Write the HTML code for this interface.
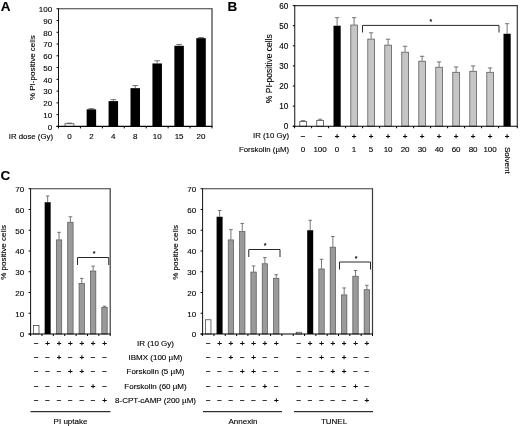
<!DOCTYPE html>
<html lang="en">
<head>
<meta charset="utf-8">
<title>Figure</title>
<style>
html,body{margin:0;padding:0;background:#fff;}
body{width:520px;height:426px;overflow:hidden;}
svg{display:block;font-family:'Liberation Sans', Arial, sans-serif;}
</style>
</head>
<body>
<svg width="520" height="426" viewBox="0 0 520 426">
<rect x="0" y="0" width="520" height="426" fill="#fff"/>
<text x="0.70" y="10.80" text-anchor="start" font-size="13.5" font-weight="bold" fill="#000" stroke="#000" stroke-width="0.12">A</text>
<line x1="58.50" y1="8.75" x2="212.60" y2="8.75" stroke="#3a3a3a" stroke-width="1.2"/>
<line x1="212.00" y1="8.75" x2="212.00" y2="126.40" stroke="#3a3a3a" stroke-width="1.2"/>
<line x1="69.46" y1="123.11" x2="69.46" y2="123.46" stroke="#555" stroke-width="0.8"/>
<line x1="66.61" y1="123.11" x2="72.31" y2="123.11" stroke="#555" stroke-width="0.8"/>
<rect x="65.01" y="123.76" width="8.90" height="2.64" fill="#fff" stroke="#333" stroke-width="0.7"/>
<line x1="91.39" y1="108.63" x2="91.39" y2="109.34" stroke="#555" stroke-width="0.8"/>
<line x1="88.54" y1="108.63" x2="94.24" y2="108.63" stroke="#555" stroke-width="0.8"/>
<rect x="86.64" y="109.34" width="9.50" height="17.06" fill="#000" stroke="none" stroke-width="0.6"/>
<line x1="113.32" y1="99.58" x2="113.32" y2="101.11" stroke="#555" stroke-width="0.8"/>
<line x1="110.47" y1="99.58" x2="116.17" y2="99.58" stroke="#555" stroke-width="0.8"/>
<rect x="108.57" y="101.11" width="9.50" height="25.29" fill="#000" stroke="none" stroke-width="0.6"/>
<line x1="135.25" y1="85.58" x2="135.25" y2="88.16" stroke="#555" stroke-width="0.8"/>
<line x1="132.40" y1="85.58" x2="138.10" y2="85.58" stroke="#555" stroke-width="0.8"/>
<rect x="130.50" y="88.16" width="9.50" height="38.24" fill="#000" stroke="none" stroke-width="0.6"/>
<line x1="157.18" y1="60.75" x2="157.18" y2="63.46" stroke="#555" stroke-width="0.8"/>
<line x1="154.33" y1="60.75" x2="160.03" y2="60.75" stroke="#555" stroke-width="0.8"/>
<rect x="152.43" y="63.46" width="9.50" height="62.94" fill="#000" stroke="none" stroke-width="0.6"/>
<line x1="179.11" y1="44.40" x2="179.11" y2="45.81" stroke="#555" stroke-width="0.8"/>
<line x1="176.26" y1="44.40" x2="181.96" y2="44.40" stroke="#555" stroke-width="0.8"/>
<rect x="174.36" y="45.81" width="9.50" height="80.59" fill="#000" stroke="none" stroke-width="0.6"/>
<line x1="201.04" y1="37.46" x2="201.04" y2="38.16" stroke="#555" stroke-width="0.8"/>
<line x1="198.19" y1="37.46" x2="203.89" y2="37.46" stroke="#555" stroke-width="0.8"/>
<rect x="196.29" y="38.16" width="9.50" height="88.24" fill="#000" stroke="none" stroke-width="0.6"/>
<line x1="58.50" y1="8.25" x2="58.50" y2="126.90" stroke="#111" stroke-width="1"/>
<line x1="56.50" y1="126.40" x2="212.50" y2="126.40" stroke="#000" stroke-width="1.1"/>
<line x1="56.50" y1="126.40" x2="58.50" y2="126.40" stroke="#000" stroke-width="1"/>
<text x="52.10" y="129.70" text-anchor="end" font-size="8" fill="#000" stroke="#000" stroke-width="0.12">0</text>
<line x1="56.50" y1="114.64" x2="58.50" y2="114.64" stroke="#000" stroke-width="1"/>
<text x="52.10" y="117.94" text-anchor="end" font-size="8" fill="#000" stroke="#000" stroke-width="0.12">10</text>
<line x1="56.50" y1="102.87" x2="58.50" y2="102.87" stroke="#000" stroke-width="1"/>
<text x="52.10" y="106.17" text-anchor="end" font-size="8" fill="#000" stroke="#000" stroke-width="0.12">20</text>
<line x1="56.50" y1="91.11" x2="58.50" y2="91.11" stroke="#000" stroke-width="1"/>
<text x="52.10" y="94.41" text-anchor="end" font-size="8" fill="#000" stroke="#000" stroke-width="0.12">30</text>
<line x1="56.50" y1="79.34" x2="58.50" y2="79.34" stroke="#000" stroke-width="1"/>
<text x="52.10" y="82.64" text-anchor="end" font-size="8" fill="#000" stroke="#000" stroke-width="0.12">40</text>
<line x1="56.50" y1="67.58" x2="58.50" y2="67.58" stroke="#000" stroke-width="1"/>
<text x="52.10" y="70.88" text-anchor="end" font-size="8" fill="#000" stroke="#000" stroke-width="0.12">50</text>
<line x1="56.50" y1="55.81" x2="58.50" y2="55.81" stroke="#000" stroke-width="1"/>
<text x="52.10" y="59.11" text-anchor="end" font-size="8" fill="#000" stroke="#000" stroke-width="0.12">60</text>
<line x1="56.50" y1="44.05" x2="58.50" y2="44.05" stroke="#000" stroke-width="1"/>
<text x="52.10" y="47.34" text-anchor="end" font-size="8" fill="#000" stroke="#000" stroke-width="0.12">70</text>
<line x1="56.50" y1="32.28" x2="58.50" y2="32.28" stroke="#000" stroke-width="1"/>
<text x="52.10" y="35.58" text-anchor="end" font-size="8" fill="#000" stroke="#000" stroke-width="0.12">80</text>
<line x1="56.50" y1="20.52" x2="58.50" y2="20.52" stroke="#000" stroke-width="1"/>
<text x="52.10" y="23.82" text-anchor="end" font-size="8" fill="#000" stroke="#000" stroke-width="0.12">90</text>
<line x1="56.50" y1="8.75" x2="58.50" y2="8.75" stroke="#000" stroke-width="1"/>
<text x="52.10" y="12.05" text-anchor="end" font-size="8" fill="#000" stroke="#000" stroke-width="0.12">100</text>
<line x1="58.50" y1="126.40" x2="58.50" y2="128.40" stroke="#000" stroke-width="1"/>
<line x1="80.43" y1="126.40" x2="80.43" y2="128.40" stroke="#000" stroke-width="1"/>
<line x1="102.36" y1="126.40" x2="102.36" y2="128.40" stroke="#000" stroke-width="1"/>
<line x1="124.29" y1="126.40" x2="124.29" y2="128.40" stroke="#000" stroke-width="1"/>
<line x1="146.21" y1="126.40" x2="146.21" y2="128.40" stroke="#000" stroke-width="1"/>
<line x1="168.14" y1="126.40" x2="168.14" y2="128.40" stroke="#000" stroke-width="1"/>
<line x1="190.07" y1="126.40" x2="190.07" y2="128.40" stroke="#000" stroke-width="1"/>
<line x1="212.00" y1="126.40" x2="212.00" y2="128.40" stroke="#000" stroke-width="1"/>
<text x="35.50" y="67.58" text-anchor="middle" font-size="8" transform="rotate(-90 35.50 67.58)" fill="#000" stroke="#000" stroke-width="0.12">% PI-positive cells</text>
<text x="53.00" y="139.10" text-anchor="end" font-size="7.8" fill="#000" stroke="#000" stroke-width="0.12">IR dose (Gy)</text>
<text x="69.46" y="139.10" text-anchor="middle" font-size="8" fill="#000" stroke="#000" stroke-width="0.12">0</text>
<text x="91.39" y="139.10" text-anchor="middle" font-size="8" fill="#000" stroke="#000" stroke-width="0.12">2</text>
<text x="113.32" y="139.10" text-anchor="middle" font-size="8" fill="#000" stroke="#000" stroke-width="0.12">4</text>
<text x="135.25" y="139.10" text-anchor="middle" font-size="8" fill="#000" stroke="#000" stroke-width="0.12">8</text>
<text x="157.18" y="139.10" text-anchor="middle" font-size="8" fill="#000" stroke="#000" stroke-width="0.12">10</text>
<text x="179.11" y="139.10" text-anchor="middle" font-size="8" fill="#000" stroke="#000" stroke-width="0.12">15</text>
<text x="201.04" y="139.10" text-anchor="middle" font-size="8" fill="#000" stroke="#000" stroke-width="0.12">20</text>
<text x="227.50" y="11.20" text-anchor="start" font-size="13.5" font-weight="bold" fill="#000" stroke="#000" stroke-width="0.12">B</text>
<line x1="294.75" y1="5.60" x2="517.90" y2="5.60" stroke="#3a3a3a" stroke-width="1.2"/>
<line x1="517.30" y1="5.60" x2="517.30" y2="126.25" stroke="#3a3a3a" stroke-width="1.2"/>
<line x1="303.10" y1="120.62" x2="303.10" y2="121.22" stroke="#555" stroke-width="0.8"/>
<line x1="300.94" y1="120.62" x2="305.26" y2="120.62" stroke="#555" stroke-width="0.8"/>
<rect x="299.80" y="121.52" width="6.60" height="4.73" fill="#fff" stroke="#333" stroke-width="0.7"/>
<line x1="320.10" y1="119.21" x2="320.10" y2="120.22" stroke="#555" stroke-width="0.8"/>
<line x1="317.94" y1="119.21" x2="322.26" y2="119.21" stroke="#555" stroke-width="0.8"/>
<rect x="316.80" y="120.52" width="6.60" height="5.73" fill="#fff" stroke="#333" stroke-width="0.7"/>
<line x1="337.10" y1="17.67" x2="337.10" y2="25.71" stroke="#555" stroke-width="0.8"/>
<line x1="334.94" y1="17.67" x2="339.26" y2="17.67" stroke="#555" stroke-width="0.8"/>
<rect x="333.50" y="25.71" width="7.20" height="100.54" fill="#000" stroke="none" stroke-width="0.6"/>
<line x1="354.10" y1="17.66" x2="354.10" y2="24.70" stroke="#555" stroke-width="0.8"/>
<line x1="351.94" y1="17.66" x2="356.26" y2="17.66" stroke="#555" stroke-width="0.8"/>
<rect x="350.80" y="25.00" width="6.60" height="101.25" fill="#c6c6c6" stroke="#4a4a4a" stroke-width="0.7"/>
<line x1="371.10" y1="32.75" x2="371.10" y2="38.78" stroke="#555" stroke-width="0.8"/>
<line x1="368.94" y1="32.75" x2="373.26" y2="32.75" stroke="#555" stroke-width="0.8"/>
<rect x="367.80" y="39.08" width="6.60" height="87.17" fill="#c6c6c6" stroke="#4a4a4a" stroke-width="0.7"/>
<line x1="388.10" y1="39.18" x2="388.10" y2="44.81" stroke="#555" stroke-width="0.8"/>
<line x1="385.94" y1="39.18" x2="390.26" y2="39.18" stroke="#555" stroke-width="0.8"/>
<rect x="384.80" y="45.11" width="6.60" height="81.14" fill="#c6c6c6" stroke="#4a4a4a" stroke-width="0.7"/>
<line x1="405.10" y1="46.22" x2="405.10" y2="51.85" stroke="#555" stroke-width="0.8"/>
<line x1="402.94" y1="46.22" x2="407.26" y2="46.22" stroke="#555" stroke-width="0.8"/>
<rect x="401.80" y="52.15" width="6.60" height="74.10" fill="#c6c6c6" stroke="#4a4a4a" stroke-width="0.7"/>
<line x1="422.10" y1="56.27" x2="422.10" y2="60.90" stroke="#555" stroke-width="0.8"/>
<line x1="419.94" y1="56.27" x2="424.26" y2="56.27" stroke="#555" stroke-width="0.8"/>
<rect x="418.80" y="61.20" width="6.60" height="65.05" fill="#c6c6c6" stroke="#4a4a4a" stroke-width="0.7"/>
<line x1="439.10" y1="61.90" x2="439.10" y2="66.93" stroke="#555" stroke-width="0.8"/>
<line x1="436.94" y1="61.90" x2="441.26" y2="61.90" stroke="#555" stroke-width="0.8"/>
<rect x="435.80" y="67.23" width="6.60" height="59.02" fill="#c6c6c6" stroke="#4a4a4a" stroke-width="0.7"/>
<line x1="456.10" y1="66.93" x2="456.10" y2="71.96" stroke="#555" stroke-width="0.8"/>
<line x1="453.94" y1="66.93" x2="458.26" y2="66.93" stroke="#555" stroke-width="0.8"/>
<rect x="452.80" y="72.26" width="6.60" height="53.99" fill="#c6c6c6" stroke="#4a4a4a" stroke-width="0.7"/>
<line x1="473.10" y1="65.92" x2="473.10" y2="70.95" stroke="#555" stroke-width="0.8"/>
<line x1="470.94" y1="65.92" x2="475.26" y2="65.92" stroke="#555" stroke-width="0.8"/>
<rect x="469.80" y="71.25" width="6.60" height="55.00" fill="#c6c6c6" stroke="#4a4a4a" stroke-width="0.7"/>
<line x1="490.10" y1="67.94" x2="490.10" y2="71.96" stroke="#555" stroke-width="0.8"/>
<line x1="487.94" y1="67.94" x2="492.26" y2="67.94" stroke="#555" stroke-width="0.8"/>
<rect x="486.80" y="72.26" width="6.60" height="53.99" fill="#c6c6c6" stroke="#4a4a4a" stroke-width="0.7"/>
<line x1="507.10" y1="23.70" x2="507.10" y2="33.75" stroke="#555" stroke-width="0.8"/>
<line x1="504.94" y1="23.70" x2="509.26" y2="23.70" stroke="#555" stroke-width="0.8"/>
<rect x="503.50" y="33.75" width="7.20" height="92.50" fill="#000" stroke="none" stroke-width="0.6"/>
<line x1="294.75" y1="5.10" x2="294.75" y2="126.75" stroke="#111" stroke-width="1"/>
<line x1="292.75" y1="126.25" x2="517.80" y2="126.25" stroke="#000" stroke-width="1.1"/>
<line x1="292.75" y1="126.25" x2="294.75" y2="126.25" stroke="#000" stroke-width="1"/>
<text x="288.35" y="129.35" text-anchor="end" font-size="8.2" fill="#000" stroke="#000" stroke-width="0.12">0</text>
<line x1="292.75" y1="106.14" x2="294.75" y2="106.14" stroke="#000" stroke-width="1"/>
<text x="288.35" y="109.24" text-anchor="end" font-size="8.2" fill="#000" stroke="#000" stroke-width="0.12">10</text>
<line x1="292.75" y1="86.03" x2="294.75" y2="86.03" stroke="#000" stroke-width="1"/>
<text x="288.35" y="89.13" text-anchor="end" font-size="8.2" fill="#000" stroke="#000" stroke-width="0.12">20</text>
<line x1="292.75" y1="65.93" x2="294.75" y2="65.93" stroke="#000" stroke-width="1"/>
<text x="288.35" y="69.03" text-anchor="end" font-size="8.2" fill="#000" stroke="#000" stroke-width="0.12">30</text>
<line x1="292.75" y1="45.82" x2="294.75" y2="45.82" stroke="#000" stroke-width="1"/>
<text x="288.35" y="48.92" text-anchor="end" font-size="8.2" fill="#000" stroke="#000" stroke-width="0.12">40</text>
<line x1="292.75" y1="25.71" x2="294.75" y2="25.71" stroke="#000" stroke-width="1"/>
<text x="288.35" y="28.81" text-anchor="end" font-size="8.2" fill="#000" stroke="#000" stroke-width="0.12">50</text>
<line x1="292.75" y1="5.60" x2="294.75" y2="5.60" stroke="#000" stroke-width="1"/>
<text x="288.35" y="8.70" text-anchor="end" font-size="8.2" fill="#000" stroke="#000" stroke-width="0.12">60</text>
<line x1="294.60" y1="126.25" x2="294.60" y2="128.25" stroke="#000" stroke-width="1"/>
<line x1="311.60" y1="126.25" x2="311.60" y2="128.25" stroke="#000" stroke-width="1"/>
<line x1="328.60" y1="126.25" x2="328.60" y2="128.25" stroke="#000" stroke-width="1"/>
<line x1="345.60" y1="126.25" x2="345.60" y2="128.25" stroke="#000" stroke-width="1"/>
<line x1="362.60" y1="126.25" x2="362.60" y2="128.25" stroke="#000" stroke-width="1"/>
<line x1="379.60" y1="126.25" x2="379.60" y2="128.25" stroke="#000" stroke-width="1"/>
<line x1="396.60" y1="126.25" x2="396.60" y2="128.25" stroke="#000" stroke-width="1"/>
<line x1="413.60" y1="126.25" x2="413.60" y2="128.25" stroke="#000" stroke-width="1"/>
<line x1="430.60" y1="126.25" x2="430.60" y2="128.25" stroke="#000" stroke-width="1"/>
<line x1="447.60" y1="126.25" x2="447.60" y2="128.25" stroke="#000" stroke-width="1"/>
<line x1="464.60" y1="126.25" x2="464.60" y2="128.25" stroke="#000" stroke-width="1"/>
<line x1="481.60" y1="126.25" x2="481.60" y2="128.25" stroke="#000" stroke-width="1"/>
<line x1="498.60" y1="126.25" x2="498.60" y2="128.25" stroke="#000" stroke-width="1"/>
<line x1="517.30" y1="126.25" x2="517.30" y2="128.25" stroke="#000" stroke-width="1"/>
<text x="272.00" y="68.72" text-anchor="middle" font-size="8.5" transform="rotate(-90 272.00 68.72)" fill="#000" stroke="#000" stroke-width="0.12">% PI-positive cells</text>
<text x="289.00" y="138.20" text-anchor="end" font-size="7.8" fill="#000" stroke="#000" stroke-width="0.12">IR (10 Gy)</text>
<text x="289.00" y="151.60" text-anchor="end" font-size="7.8" fill="#000" stroke="#000" stroke-width="0.12">Forskolin (µM)</text>
<text x="303.10" y="138.60" text-anchor="middle" font-size="8" fill="#000" stroke="#000" stroke-width="0.3">−</text>
<text x="320.10" y="138.60" text-anchor="middle" font-size="8" fill="#000" stroke="#000" stroke-width="0.3">−</text>
<text x="337.10" y="138.60" text-anchor="middle" font-size="8" fill="#000" stroke="#000" stroke-width="0.3">+</text>
<text x="354.10" y="138.60" text-anchor="middle" font-size="8" fill="#000" stroke="#000" stroke-width="0.3">+</text>
<text x="371.10" y="138.60" text-anchor="middle" font-size="8" fill="#000" stroke="#000" stroke-width="0.3">+</text>
<text x="388.10" y="138.60" text-anchor="middle" font-size="8" fill="#000" stroke="#000" stroke-width="0.3">+</text>
<text x="405.10" y="138.60" text-anchor="middle" font-size="8" fill="#000" stroke="#000" stroke-width="0.3">+</text>
<text x="422.10" y="138.60" text-anchor="middle" font-size="8" fill="#000" stroke="#000" stroke-width="0.3">+</text>
<text x="439.10" y="138.60" text-anchor="middle" font-size="8" fill="#000" stroke="#000" stroke-width="0.3">+</text>
<text x="456.10" y="138.60" text-anchor="middle" font-size="8" fill="#000" stroke="#000" stroke-width="0.3">+</text>
<text x="473.10" y="138.60" text-anchor="middle" font-size="8" fill="#000" stroke="#000" stroke-width="0.3">+</text>
<text x="490.10" y="138.60" text-anchor="middle" font-size="8" fill="#000" stroke="#000" stroke-width="0.3">+</text>
<text x="507.10" y="138.60" text-anchor="middle" font-size="8" fill="#000" stroke="#000" stroke-width="0.3">+</text>
<text x="303.10" y="151.80" text-anchor="middle" font-size="8" fill="#000" stroke="#000" stroke-width="0.12">0</text>
<text x="320.10" y="151.80" text-anchor="middle" font-size="8" fill="#000" stroke="#000" stroke-width="0.12">100</text>
<text x="337.10" y="151.80" text-anchor="middle" font-size="8" fill="#000" stroke="#000" stroke-width="0.12">0</text>
<text x="354.10" y="151.80" text-anchor="middle" font-size="8" fill="#000" stroke="#000" stroke-width="0.12">1</text>
<text x="371.10" y="151.80" text-anchor="middle" font-size="8" fill="#000" stroke="#000" stroke-width="0.12">5</text>
<text x="388.10" y="151.80" text-anchor="middle" font-size="8" fill="#000" stroke="#000" stroke-width="0.12">10</text>
<text x="405.10" y="151.80" text-anchor="middle" font-size="8" fill="#000" stroke="#000" stroke-width="0.12">20</text>
<text x="422.10" y="151.80" text-anchor="middle" font-size="8" fill="#000" stroke="#000" stroke-width="0.12">30</text>
<text x="439.10" y="151.80" text-anchor="middle" font-size="8" fill="#000" stroke="#000" stroke-width="0.12">40</text>
<text x="456.10" y="151.80" text-anchor="middle" font-size="8" fill="#000" stroke="#000" stroke-width="0.12">60</text>
<text x="473.10" y="151.80" text-anchor="middle" font-size="8" fill="#000" stroke="#000" stroke-width="0.12">80</text>
<text x="490.10" y="151.80" text-anchor="middle" font-size="8" fill="#000" stroke="#000" stroke-width="0.12">100</text>
<text x="504.50" y="147.00" text-anchor="start" font-size="8" transform="rotate(90 504.50 147.00)" fill="#000" stroke="#000" stroke-width="0.12">Solvent</text>
<path d="M362.50 32.50 V25.40 H499.00 V32.50" fill="none" stroke="#2a2a2a" stroke-width="1"/>
<text x="430.90" y="24.00" text-anchor="middle" font-size="7" font-weight="bold" fill="#000" stroke="#000" stroke-width="0">*</text>
<text x="0.50" y="179.50" text-anchor="start" font-size="13.5" font-weight="bold" fill="#000" stroke="#000" stroke-width="0.12">C</text>
<line x1="30.60" y1="188.75" x2="110.80" y2="188.75" stroke="#3a3a3a" stroke-width="1.2"/>
<line x1="110.20" y1="188.75" x2="110.20" y2="334.00" stroke="#3a3a3a" stroke-width="1.2"/>
<rect x="33.59" y="325.38" width="5.40" height="8.62" fill="#fff" stroke="#333" stroke-width="0.7"/>
<line x1="47.66" y1="196.01" x2="47.66" y2="202.24" stroke="#555" stroke-width="0.8"/>
<line x1="45.86" y1="196.01" x2="49.46" y2="196.01" stroke="#555" stroke-width="0.8"/>
<rect x="44.66" y="202.24" width="6.00" height="131.76" fill="#000" stroke="none" stroke-width="0.6"/>
<line x1="59.03" y1="232.32" x2="59.03" y2="239.59" stroke="#555" stroke-width="0.8"/>
<line x1="57.23" y1="232.32" x2="60.83" y2="232.32" stroke="#555" stroke-width="0.8"/>
<rect x="56.33" y="239.89" width="5.40" height="94.11" fill="#9a9a9a" stroke="#555" stroke-width="0.7"/>
<line x1="70.40" y1="216.76" x2="70.40" y2="221.95" stroke="#555" stroke-width="0.8"/>
<line x1="68.60" y1="216.76" x2="72.20" y2="216.76" stroke="#555" stroke-width="0.8"/>
<rect x="67.70" y="222.25" width="5.40" height="111.75" fill="#9a9a9a" stroke="#555" stroke-width="0.7"/>
<line x1="81.77" y1="278.39" x2="81.77" y2="283.16" stroke="#555" stroke-width="0.8"/>
<line x1="79.97" y1="278.39" x2="83.57" y2="278.39" stroke="#555" stroke-width="0.8"/>
<rect x="79.07" y="283.46" width="5.40" height="50.54" fill="#9a9a9a" stroke="#555" stroke-width="0.7"/>
<line x1="93.14" y1="266.15" x2="93.14" y2="270.71" stroke="#555" stroke-width="0.8"/>
<line x1="91.34" y1="266.15" x2="94.94" y2="266.15" stroke="#555" stroke-width="0.8"/>
<rect x="90.44" y="271.01" width="5.40" height="62.99" fill="#9a9a9a" stroke="#555" stroke-width="0.7"/>
<line x1="104.51" y1="306.19" x2="104.51" y2="307.02" stroke="#555" stroke-width="0.8"/>
<line x1="102.71" y1="306.19" x2="106.31" y2="306.19" stroke="#555" stroke-width="0.8"/>
<rect x="101.81" y="307.32" width="5.40" height="26.68" fill="#9a9a9a" stroke="#555" stroke-width="0.7"/>
<line x1="30.60" y1="188.25" x2="30.60" y2="334.50" stroke="#111" stroke-width="1"/>
<line x1="28.60" y1="334.00" x2="110.70" y2="334.00" stroke="#000" stroke-width="1.1"/>
<line x1="28.60" y1="334.00" x2="30.60" y2="334.00" stroke="#000" stroke-width="1"/>
<text x="24.20" y="337.30" text-anchor="end" font-size="8" fill="#000" stroke="#000" stroke-width="0.12">0</text>
<line x1="28.60" y1="313.25" x2="30.60" y2="313.25" stroke="#000" stroke-width="1"/>
<text x="24.20" y="316.55" text-anchor="end" font-size="8" fill="#000" stroke="#000" stroke-width="0.12">10</text>
<line x1="28.60" y1="292.50" x2="30.60" y2="292.50" stroke="#000" stroke-width="1"/>
<text x="24.20" y="295.80" text-anchor="end" font-size="8" fill="#000" stroke="#000" stroke-width="0.12">20</text>
<line x1="28.60" y1="271.75" x2="30.60" y2="271.75" stroke="#000" stroke-width="1"/>
<text x="24.20" y="275.05" text-anchor="end" font-size="8" fill="#000" stroke="#000" stroke-width="0.12">30</text>
<line x1="28.60" y1="251.00" x2="30.60" y2="251.00" stroke="#000" stroke-width="1"/>
<text x="24.20" y="254.30" text-anchor="end" font-size="8" fill="#000" stroke="#000" stroke-width="0.12">40</text>
<line x1="28.60" y1="230.25" x2="30.60" y2="230.25" stroke="#000" stroke-width="1"/>
<text x="24.20" y="233.55" text-anchor="end" font-size="8" fill="#000" stroke="#000" stroke-width="0.12">50</text>
<line x1="28.60" y1="209.50" x2="30.60" y2="209.50" stroke="#000" stroke-width="1"/>
<text x="24.20" y="212.80" text-anchor="end" font-size="8" fill="#000" stroke="#000" stroke-width="0.12">60</text>
<line x1="28.60" y1="188.75" x2="30.60" y2="188.75" stroke="#000" stroke-width="1"/>
<text x="24.20" y="192.05" text-anchor="end" font-size="8" fill="#000" stroke="#000" stroke-width="0.12">70</text>
<line x1="30.60" y1="334.00" x2="30.60" y2="336.00" stroke="#000" stroke-width="1"/>
<line x1="41.97" y1="334.00" x2="41.97" y2="336.00" stroke="#000" stroke-width="1"/>
<line x1="53.34" y1="334.00" x2="53.34" y2="336.00" stroke="#000" stroke-width="1"/>
<line x1="64.71" y1="334.00" x2="64.71" y2="336.00" stroke="#000" stroke-width="1"/>
<line x1="76.09" y1="334.00" x2="76.09" y2="336.00" stroke="#000" stroke-width="1"/>
<line x1="87.46" y1="334.00" x2="87.46" y2="336.00" stroke="#000" stroke-width="1"/>
<line x1="98.83" y1="334.00" x2="98.83" y2="336.00" stroke="#000" stroke-width="1"/>
<line x1="110.20" y1="334.00" x2="110.20" y2="336.00" stroke="#000" stroke-width="1"/>
<text x="6.50" y="252.38" text-anchor="middle" font-size="8" transform="rotate(-90 6.50 252.38)" fill="#000" stroke="#000" stroke-width="0.12">% positive cells</text>
<path d="M77.50 265.00 V257.50 H108.75 V265.00" fill="none" stroke="#2a2a2a" stroke-width="1"/>
<text x="94.00" y="255.90" text-anchor="middle" font-size="7" font-weight="bold" fill="#000" stroke="#000" stroke-width="0">*</text>
<line x1="202.60" y1="188.75" x2="373.10" y2="188.75" stroke="#3a3a3a" stroke-width="1.2"/>
<line x1="372.50" y1="188.75" x2="372.50" y2="334.00" stroke="#3a3a3a" stroke-width="1.2"/>
<rect x="205.56" y="319.78" width="5.40" height="14.22" fill="#fff" stroke="#333" stroke-width="0.7"/>
<line x1="219.59" y1="210.54" x2="219.59" y2="216.76" stroke="#555" stroke-width="0.8"/>
<line x1="217.79" y1="210.54" x2="221.39" y2="210.54" stroke="#555" stroke-width="0.8"/>
<rect x="216.59" y="216.76" width="6.00" height="117.24" fill="#000" stroke="none" stroke-width="0.6"/>
<line x1="230.92" y1="229.63" x2="230.92" y2="239.59" stroke="#555" stroke-width="0.8"/>
<line x1="229.12" y1="229.63" x2="232.72" y2="229.63" stroke="#555" stroke-width="0.8"/>
<rect x="228.22" y="239.89" width="5.40" height="94.11" fill="#9a9a9a" stroke="#555" stroke-width="0.7"/>
<line x1="242.24" y1="223.40" x2="242.24" y2="231.29" stroke="#555" stroke-width="0.8"/>
<line x1="240.44" y1="223.40" x2="244.04" y2="223.40" stroke="#555" stroke-width="0.8"/>
<rect x="239.54" y="231.59" width="5.40" height="102.41" fill="#9a9a9a" stroke="#555" stroke-width="0.7"/>
<line x1="253.57" y1="265.94" x2="253.57" y2="271.75" stroke="#555" stroke-width="0.8"/>
<line x1="251.77" y1="265.94" x2="255.37" y2="265.94" stroke="#555" stroke-width="0.8"/>
<rect x="250.87" y="272.05" width="5.40" height="61.95" fill="#9a9a9a" stroke="#555" stroke-width="0.7"/>
<line x1="264.90" y1="257.64" x2="264.90" y2="263.45" stroke="#555" stroke-width="0.8"/>
<line x1="263.10" y1="257.64" x2="266.70" y2="257.64" stroke="#555" stroke-width="0.8"/>
<rect x="262.20" y="263.75" width="5.40" height="70.25" fill="#9a9a9a" stroke="#555" stroke-width="0.7"/>
<line x1="276.22" y1="274.66" x2="276.22" y2="277.98" stroke="#555" stroke-width="0.8"/>
<line x1="274.42" y1="274.66" x2="278.02" y2="274.66" stroke="#555" stroke-width="0.8"/>
<rect x="273.52" y="278.28" width="5.40" height="55.72" fill="#9a9a9a" stroke="#555" stroke-width="0.7"/>
<rect x="296.18" y="332.23" width="5.40" height="1.77" fill="#fff" stroke="#333" stroke-width="0.7"/>
<line x1="310.20" y1="220.29" x2="310.20" y2="230.25" stroke="#555" stroke-width="0.8"/>
<line x1="308.40" y1="220.29" x2="312.00" y2="220.29" stroke="#555" stroke-width="0.8"/>
<rect x="307.20" y="230.25" width="6.00" height="103.75" fill="#000" stroke="none" stroke-width="0.6"/>
<line x1="321.53" y1="259.30" x2="321.53" y2="268.64" stroke="#555" stroke-width="0.8"/>
<line x1="319.73" y1="259.30" x2="323.33" y2="259.30" stroke="#555" stroke-width="0.8"/>
<rect x="318.83" y="268.94" width="5.40" height="65.06" fill="#9a9a9a" stroke="#555" stroke-width="0.7"/>
<line x1="332.86" y1="236.47" x2="332.86" y2="246.85" stroke="#555" stroke-width="0.8"/>
<line x1="331.06" y1="236.47" x2="334.66" y2="236.47" stroke="#555" stroke-width="0.8"/>
<rect x="330.16" y="247.15" width="5.40" height="86.85" fill="#9a9a9a" stroke="#555" stroke-width="0.7"/>
<line x1="344.18" y1="287.94" x2="344.18" y2="294.57" stroke="#555" stroke-width="0.8"/>
<line x1="342.38" y1="287.94" x2="345.98" y2="287.94" stroke="#555" stroke-width="0.8"/>
<rect x="341.48" y="294.88" width="5.40" height="39.13" fill="#9a9a9a" stroke="#555" stroke-width="0.7"/>
<line x1="355.51" y1="270.50" x2="355.51" y2="275.90" stroke="#555" stroke-width="0.8"/>
<line x1="353.71" y1="270.50" x2="357.31" y2="270.50" stroke="#555" stroke-width="0.8"/>
<rect x="352.81" y="276.20" width="5.40" height="57.80" fill="#9a9a9a" stroke="#555" stroke-width="0.7"/>
<line x1="366.84" y1="285.24" x2="366.84" y2="289.39" stroke="#555" stroke-width="0.8"/>
<line x1="365.04" y1="285.24" x2="368.64" y2="285.24" stroke="#555" stroke-width="0.8"/>
<rect x="364.14" y="289.69" width="5.40" height="44.31" fill="#9a9a9a" stroke="#555" stroke-width="0.7"/>
<line x1="202.60" y1="188.25" x2="202.60" y2="334.50" stroke="#111" stroke-width="1"/>
<line x1="200.60" y1="334.00" x2="373.00" y2="334.00" stroke="#000" stroke-width="1.1"/>
<line x1="200.60" y1="334.00" x2="202.60" y2="334.00" stroke="#000" stroke-width="1"/>
<text x="196.20" y="337.30" text-anchor="end" font-size="8" fill="#000" stroke="#000" stroke-width="0.12">0</text>
<line x1="200.60" y1="313.25" x2="202.60" y2="313.25" stroke="#000" stroke-width="1"/>
<text x="196.20" y="316.55" text-anchor="end" font-size="8" fill="#000" stroke="#000" stroke-width="0.12">10</text>
<line x1="200.60" y1="292.50" x2="202.60" y2="292.50" stroke="#000" stroke-width="1"/>
<text x="196.20" y="295.80" text-anchor="end" font-size="8" fill="#000" stroke="#000" stroke-width="0.12">20</text>
<line x1="200.60" y1="271.75" x2="202.60" y2="271.75" stroke="#000" stroke-width="1"/>
<text x="196.20" y="275.05" text-anchor="end" font-size="8" fill="#000" stroke="#000" stroke-width="0.12">30</text>
<line x1="200.60" y1="251.00" x2="202.60" y2="251.00" stroke="#000" stroke-width="1"/>
<text x="196.20" y="254.30" text-anchor="end" font-size="8" fill="#000" stroke="#000" stroke-width="0.12">40</text>
<line x1="200.60" y1="230.25" x2="202.60" y2="230.25" stroke="#000" stroke-width="1"/>
<text x="196.20" y="233.55" text-anchor="end" font-size="8" fill="#000" stroke="#000" stroke-width="0.12">50</text>
<line x1="200.60" y1="209.50" x2="202.60" y2="209.50" stroke="#000" stroke-width="1"/>
<text x="196.20" y="212.80" text-anchor="end" font-size="8" fill="#000" stroke="#000" stroke-width="0.12">60</text>
<line x1="200.60" y1="188.75" x2="202.60" y2="188.75" stroke="#000" stroke-width="1"/>
<text x="196.20" y="192.05" text-anchor="end" font-size="8" fill="#000" stroke="#000" stroke-width="0.12">70</text>
<line x1="202.60" y1="334.00" x2="202.60" y2="336.00" stroke="#000" stroke-width="1"/>
<line x1="213.93" y1="334.00" x2="213.93" y2="336.00" stroke="#000" stroke-width="1"/>
<line x1="225.25" y1="334.00" x2="225.25" y2="336.00" stroke="#000" stroke-width="1"/>
<line x1="236.58" y1="334.00" x2="236.58" y2="336.00" stroke="#000" stroke-width="1"/>
<line x1="247.91" y1="334.00" x2="247.91" y2="336.00" stroke="#000" stroke-width="1"/>
<line x1="259.23" y1="334.00" x2="259.23" y2="336.00" stroke="#000" stroke-width="1"/>
<line x1="270.56" y1="334.00" x2="270.56" y2="336.00" stroke="#000" stroke-width="1"/>
<line x1="281.89" y1="334.00" x2="281.89" y2="336.00" stroke="#000" stroke-width="1"/>
<line x1="293.21" y1="334.00" x2="293.21" y2="336.00" stroke="#000" stroke-width="1"/>
<line x1="304.54" y1="334.00" x2="304.54" y2="336.00" stroke="#000" stroke-width="1"/>
<line x1="315.87" y1="334.00" x2="315.87" y2="336.00" stroke="#000" stroke-width="1"/>
<line x1="327.19" y1="334.00" x2="327.19" y2="336.00" stroke="#000" stroke-width="1"/>
<line x1="338.52" y1="334.00" x2="338.52" y2="336.00" stroke="#000" stroke-width="1"/>
<line x1="349.85" y1="334.00" x2="349.85" y2="336.00" stroke="#000" stroke-width="1"/>
<line x1="361.17" y1="334.00" x2="361.17" y2="336.00" stroke="#000" stroke-width="1"/>
<line x1="372.50" y1="334.00" x2="372.50" y2="336.00" stroke="#000" stroke-width="1"/>
<text x="178.50" y="252.38" text-anchor="middle" font-size="8" transform="rotate(-90 178.50 252.38)" fill="#000" stroke="#000" stroke-width="0.12">% positive cells</text>
<path d="M248.75 257.00 V249.50 H280.00 V257.00" fill="none" stroke="#2a2a2a" stroke-width="1"/>
<text x="265.00" y="247.90" text-anchor="middle" font-size="7" font-weight="bold" fill="#000" stroke="#000" stroke-width="0">*</text>
<path d="M339.50 269.50 V262.00 H370.50 V269.50" fill="none" stroke="#2a2a2a" stroke-width="1"/>
<text x="356.00" y="260.90" text-anchor="middle" font-size="7" font-weight="bold" fill="#000" stroke="#000" stroke-width="0">*</text>
<text x="155.50" y="346.45" text-anchor="middle" font-size="8" fill="#000" stroke="#000" stroke-width="0.12">IR (10 Gy)</text>
<text x="36.29" y="346.45" text-anchor="middle" font-size="8" fill="#000" stroke="#000" stroke-width="0.3">−</text>
<text x="208.26" y="346.45" text-anchor="middle" font-size="8" fill="#000" stroke="#000" stroke-width="0.3">−</text>
<text x="298.88" y="346.45" text-anchor="middle" font-size="8" fill="#000" stroke="#000" stroke-width="0.3">−</text>
<text x="47.66" y="346.45" text-anchor="middle" font-size="8" fill="#000" stroke="#000" stroke-width="0.3">+</text>
<text x="219.59" y="346.45" text-anchor="middle" font-size="8" fill="#000" stroke="#000" stroke-width="0.3">+</text>
<text x="310.20" y="346.45" text-anchor="middle" font-size="8" fill="#000" stroke="#000" stroke-width="0.3">+</text>
<text x="59.03" y="346.45" text-anchor="middle" font-size="8" fill="#000" stroke="#000" stroke-width="0.3">+</text>
<text x="230.92" y="346.45" text-anchor="middle" font-size="8" fill="#000" stroke="#000" stroke-width="0.3">+</text>
<text x="321.53" y="346.45" text-anchor="middle" font-size="8" fill="#000" stroke="#000" stroke-width="0.3">+</text>
<text x="70.40" y="346.45" text-anchor="middle" font-size="8" fill="#000" stroke="#000" stroke-width="0.3">+</text>
<text x="242.24" y="346.45" text-anchor="middle" font-size="8" fill="#000" stroke="#000" stroke-width="0.3">+</text>
<text x="332.86" y="346.45" text-anchor="middle" font-size="8" fill="#000" stroke="#000" stroke-width="0.3">+</text>
<text x="81.77" y="346.45" text-anchor="middle" font-size="8" fill="#000" stroke="#000" stroke-width="0.3">+</text>
<text x="253.57" y="346.45" text-anchor="middle" font-size="8" fill="#000" stroke="#000" stroke-width="0.3">+</text>
<text x="344.18" y="346.45" text-anchor="middle" font-size="8" fill="#000" stroke="#000" stroke-width="0.3">+</text>
<text x="93.14" y="346.45" text-anchor="middle" font-size="8" fill="#000" stroke="#000" stroke-width="0.3">+</text>
<text x="264.90" y="346.45" text-anchor="middle" font-size="8" fill="#000" stroke="#000" stroke-width="0.3">+</text>
<text x="355.51" y="346.45" text-anchor="middle" font-size="8" fill="#000" stroke="#000" stroke-width="0.3">+</text>
<text x="104.51" y="346.45" text-anchor="middle" font-size="8" fill="#000" stroke="#000" stroke-width="0.3">+</text>
<text x="276.22" y="346.45" text-anchor="middle" font-size="8" fill="#000" stroke="#000" stroke-width="0.3">+</text>
<text x="366.84" y="346.45" text-anchor="middle" font-size="8" fill="#000" stroke="#000" stroke-width="0.3">+</text>
<text x="155.50" y="360.20" text-anchor="middle" font-size="8" fill="#000" stroke="#000" stroke-width="0.12">IBMX (100 µM)</text>
<text x="36.29" y="360.20" text-anchor="middle" font-size="8" fill="#000" stroke="#000" stroke-width="0.3">−</text>
<text x="208.26" y="360.20" text-anchor="middle" font-size="8" fill="#000" stroke="#000" stroke-width="0.3">−</text>
<text x="298.88" y="360.20" text-anchor="middle" font-size="8" fill="#000" stroke="#000" stroke-width="0.3">−</text>
<text x="47.66" y="360.20" text-anchor="middle" font-size="8" fill="#000" stroke="#000" stroke-width="0.3">−</text>
<text x="219.59" y="360.20" text-anchor="middle" font-size="8" fill="#000" stroke="#000" stroke-width="0.3">−</text>
<text x="310.20" y="360.20" text-anchor="middle" font-size="8" fill="#000" stroke="#000" stroke-width="0.3">−</text>
<text x="59.03" y="360.20" text-anchor="middle" font-size="8" fill="#000" stroke="#000" stroke-width="0.3">+</text>
<text x="230.92" y="360.20" text-anchor="middle" font-size="8" fill="#000" stroke="#000" stroke-width="0.3">+</text>
<text x="321.53" y="360.20" text-anchor="middle" font-size="8" fill="#000" stroke="#000" stroke-width="0.3">+</text>
<text x="70.40" y="360.20" text-anchor="middle" font-size="8" fill="#000" stroke="#000" stroke-width="0.3">−</text>
<text x="242.24" y="360.20" text-anchor="middle" font-size="8" fill="#000" stroke="#000" stroke-width="0.3">−</text>
<text x="332.86" y="360.20" text-anchor="middle" font-size="8" fill="#000" stroke="#000" stroke-width="0.3">−</text>
<text x="81.77" y="360.20" text-anchor="middle" font-size="8" fill="#000" stroke="#000" stroke-width="0.3">+</text>
<text x="253.57" y="360.20" text-anchor="middle" font-size="8" fill="#000" stroke="#000" stroke-width="0.3">+</text>
<text x="344.18" y="360.20" text-anchor="middle" font-size="8" fill="#000" stroke="#000" stroke-width="0.3">+</text>
<text x="93.14" y="360.20" text-anchor="middle" font-size="8" fill="#000" stroke="#000" stroke-width="0.3">−</text>
<text x="264.90" y="360.20" text-anchor="middle" font-size="8" fill="#000" stroke="#000" stroke-width="0.3">−</text>
<text x="355.51" y="360.20" text-anchor="middle" font-size="8" fill="#000" stroke="#000" stroke-width="0.3">−</text>
<text x="104.51" y="360.20" text-anchor="middle" font-size="8" fill="#000" stroke="#000" stroke-width="0.3">−</text>
<text x="276.22" y="360.20" text-anchor="middle" font-size="8" fill="#000" stroke="#000" stroke-width="0.3">−</text>
<text x="366.84" y="360.20" text-anchor="middle" font-size="8" fill="#000" stroke="#000" stroke-width="0.3">−</text>
<text x="155.50" y="374.20" text-anchor="middle" font-size="8" fill="#000" stroke="#000" stroke-width="0.12">Forskolin (5 µM)</text>
<text x="36.29" y="374.20" text-anchor="middle" font-size="8" fill="#000" stroke="#000" stroke-width="0.3">−</text>
<text x="208.26" y="374.20" text-anchor="middle" font-size="8" fill="#000" stroke="#000" stroke-width="0.3">−</text>
<text x="298.88" y="374.20" text-anchor="middle" font-size="8" fill="#000" stroke="#000" stroke-width="0.3">−</text>
<text x="47.66" y="374.20" text-anchor="middle" font-size="8" fill="#000" stroke="#000" stroke-width="0.3">−</text>
<text x="219.59" y="374.20" text-anchor="middle" font-size="8" fill="#000" stroke="#000" stroke-width="0.3">−</text>
<text x="310.20" y="374.20" text-anchor="middle" font-size="8" fill="#000" stroke="#000" stroke-width="0.3">−</text>
<text x="59.03" y="374.20" text-anchor="middle" font-size="8" fill="#000" stroke="#000" stroke-width="0.3">−</text>
<text x="230.92" y="374.20" text-anchor="middle" font-size="8" fill="#000" stroke="#000" stroke-width="0.3">−</text>
<text x="321.53" y="374.20" text-anchor="middle" font-size="8" fill="#000" stroke="#000" stroke-width="0.3">−</text>
<text x="70.40" y="374.20" text-anchor="middle" font-size="8" fill="#000" stroke="#000" stroke-width="0.3">+</text>
<text x="242.24" y="374.20" text-anchor="middle" font-size="8" fill="#000" stroke="#000" stroke-width="0.3">+</text>
<text x="332.86" y="374.20" text-anchor="middle" font-size="8" fill="#000" stroke="#000" stroke-width="0.3">+</text>
<text x="81.77" y="374.20" text-anchor="middle" font-size="8" fill="#000" stroke="#000" stroke-width="0.3">+</text>
<text x="253.57" y="374.20" text-anchor="middle" font-size="8" fill="#000" stroke="#000" stroke-width="0.3">+</text>
<text x="344.18" y="374.20" text-anchor="middle" font-size="8" fill="#000" stroke="#000" stroke-width="0.3">+</text>
<text x="93.14" y="374.20" text-anchor="middle" font-size="8" fill="#000" stroke="#000" stroke-width="0.3">−</text>
<text x="264.90" y="374.20" text-anchor="middle" font-size="8" fill="#000" stroke="#000" stroke-width="0.3">−</text>
<text x="355.51" y="374.20" text-anchor="middle" font-size="8" fill="#000" stroke="#000" stroke-width="0.3">−</text>
<text x="104.51" y="374.20" text-anchor="middle" font-size="8" fill="#000" stroke="#000" stroke-width="0.3">−</text>
<text x="276.22" y="374.20" text-anchor="middle" font-size="8" fill="#000" stroke="#000" stroke-width="0.3">−</text>
<text x="366.84" y="374.20" text-anchor="middle" font-size="8" fill="#000" stroke="#000" stroke-width="0.3">−</text>
<text x="155.50" y="388.70" text-anchor="middle" font-size="8" fill="#000" stroke="#000" stroke-width="0.12">Forskolin (60 µM)</text>
<text x="36.29" y="388.70" text-anchor="middle" font-size="8" fill="#000" stroke="#000" stroke-width="0.3">−</text>
<text x="208.26" y="388.70" text-anchor="middle" font-size="8" fill="#000" stroke="#000" stroke-width="0.3">−</text>
<text x="298.88" y="388.70" text-anchor="middle" font-size="8" fill="#000" stroke="#000" stroke-width="0.3">−</text>
<text x="47.66" y="388.70" text-anchor="middle" font-size="8" fill="#000" stroke="#000" stroke-width="0.3">−</text>
<text x="219.59" y="388.70" text-anchor="middle" font-size="8" fill="#000" stroke="#000" stroke-width="0.3">−</text>
<text x="310.20" y="388.70" text-anchor="middle" font-size="8" fill="#000" stroke="#000" stroke-width="0.3">−</text>
<text x="59.03" y="388.70" text-anchor="middle" font-size="8" fill="#000" stroke="#000" stroke-width="0.3">−</text>
<text x="230.92" y="388.70" text-anchor="middle" font-size="8" fill="#000" stroke="#000" stroke-width="0.3">−</text>
<text x="321.53" y="388.70" text-anchor="middle" font-size="8" fill="#000" stroke="#000" stroke-width="0.3">−</text>
<text x="70.40" y="388.70" text-anchor="middle" font-size="8" fill="#000" stroke="#000" stroke-width="0.3">−</text>
<text x="242.24" y="388.70" text-anchor="middle" font-size="8" fill="#000" stroke="#000" stroke-width="0.3">−</text>
<text x="332.86" y="388.70" text-anchor="middle" font-size="8" fill="#000" stroke="#000" stroke-width="0.3">−</text>
<text x="81.77" y="388.70" text-anchor="middle" font-size="8" fill="#000" stroke="#000" stroke-width="0.3">−</text>
<text x="253.57" y="388.70" text-anchor="middle" font-size="8" fill="#000" stroke="#000" stroke-width="0.3">−</text>
<text x="344.18" y="388.70" text-anchor="middle" font-size="8" fill="#000" stroke="#000" stroke-width="0.3">−</text>
<text x="93.14" y="388.70" text-anchor="middle" font-size="8" fill="#000" stroke="#000" stroke-width="0.3">+</text>
<text x="264.90" y="388.70" text-anchor="middle" font-size="8" fill="#000" stroke="#000" stroke-width="0.3">+</text>
<text x="355.51" y="388.70" text-anchor="middle" font-size="8" fill="#000" stroke="#000" stroke-width="0.3">+</text>
<text x="104.51" y="388.70" text-anchor="middle" font-size="8" fill="#000" stroke="#000" stroke-width="0.3">−</text>
<text x="276.22" y="388.70" text-anchor="middle" font-size="8" fill="#000" stroke="#000" stroke-width="0.3">−</text>
<text x="366.84" y="388.70" text-anchor="middle" font-size="8" fill="#000" stroke="#000" stroke-width="0.3">−</text>
<text x="155.50" y="402.70" text-anchor="middle" font-size="8" fill="#000" stroke="#000" stroke-width="0.12">8-CPT-cAMP (200 µM)</text>
<text x="36.29" y="402.70" text-anchor="middle" font-size="8" fill="#000" stroke="#000" stroke-width="0.3">−</text>
<text x="208.26" y="402.70" text-anchor="middle" font-size="8" fill="#000" stroke="#000" stroke-width="0.3">−</text>
<text x="298.88" y="402.70" text-anchor="middle" font-size="8" fill="#000" stroke="#000" stroke-width="0.3">−</text>
<text x="47.66" y="402.70" text-anchor="middle" font-size="8" fill="#000" stroke="#000" stroke-width="0.3">−</text>
<text x="219.59" y="402.70" text-anchor="middle" font-size="8" fill="#000" stroke="#000" stroke-width="0.3">−</text>
<text x="310.20" y="402.70" text-anchor="middle" font-size="8" fill="#000" stroke="#000" stroke-width="0.3">−</text>
<text x="59.03" y="402.70" text-anchor="middle" font-size="8" fill="#000" stroke="#000" stroke-width="0.3">−</text>
<text x="230.92" y="402.70" text-anchor="middle" font-size="8" fill="#000" stroke="#000" stroke-width="0.3">−</text>
<text x="321.53" y="402.70" text-anchor="middle" font-size="8" fill="#000" stroke="#000" stroke-width="0.3">−</text>
<text x="70.40" y="402.70" text-anchor="middle" font-size="8" fill="#000" stroke="#000" stroke-width="0.3">−</text>
<text x="242.24" y="402.70" text-anchor="middle" font-size="8" fill="#000" stroke="#000" stroke-width="0.3">−</text>
<text x="332.86" y="402.70" text-anchor="middle" font-size="8" fill="#000" stroke="#000" stroke-width="0.3">−</text>
<text x="81.77" y="402.70" text-anchor="middle" font-size="8" fill="#000" stroke="#000" stroke-width="0.3">−</text>
<text x="253.57" y="402.70" text-anchor="middle" font-size="8" fill="#000" stroke="#000" stroke-width="0.3">−</text>
<text x="344.18" y="402.70" text-anchor="middle" font-size="8" fill="#000" stroke="#000" stroke-width="0.3">−</text>
<text x="93.14" y="402.70" text-anchor="middle" font-size="8" fill="#000" stroke="#000" stroke-width="0.3">−</text>
<text x="264.90" y="402.70" text-anchor="middle" font-size="8" fill="#000" stroke="#000" stroke-width="0.3">−</text>
<text x="355.51" y="402.70" text-anchor="middle" font-size="8" fill="#000" stroke="#000" stroke-width="0.3">−</text>
<text x="104.51" y="402.70" text-anchor="middle" font-size="8" fill="#000" stroke="#000" stroke-width="0.3">+</text>
<text x="276.22" y="402.70" text-anchor="middle" font-size="8" fill="#000" stroke="#000" stroke-width="0.3">+</text>
<text x="366.84" y="402.70" text-anchor="middle" font-size="8" fill="#000" stroke="#000" stroke-width="0.3">+</text>
<line x1="30.50" y1="411.70" x2="110.50" y2="411.70" stroke="#000" stroke-width="1"/>
<line x1="203.00" y1="411.70" x2="282.00" y2="411.70" stroke="#000" stroke-width="1"/>
<line x1="294.00" y1="411.70" x2="373.00" y2="411.70" stroke="#000" stroke-width="1"/>
<text x="70.50" y="423.50" text-anchor="middle" font-size="8" fill="#000" stroke="#000" stroke-width="0.12">PI uptake</text>
<text x="243.00" y="423.50" text-anchor="middle" font-size="8" fill="#000" stroke="#000" stroke-width="0.12">Annexin</text>
<text x="334.00" y="423.50" text-anchor="middle" font-size="8" fill="#000" stroke="#000" stroke-width="0.12">TUNEL</text>
</svg>
</body>
</html>
